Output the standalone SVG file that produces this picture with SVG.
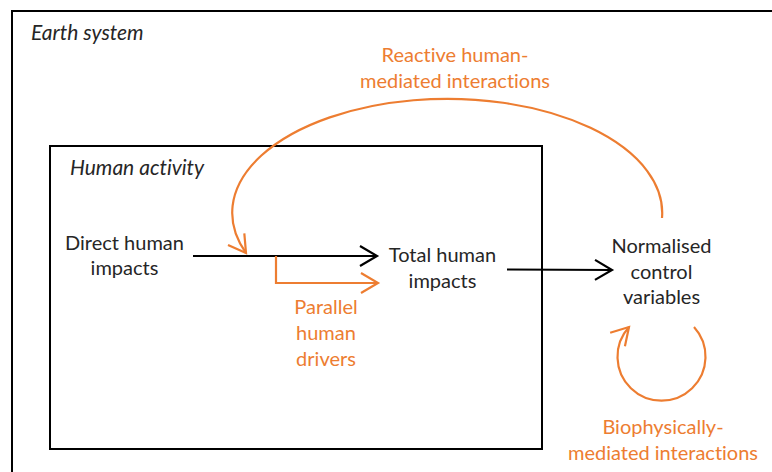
<svg xmlns="http://www.w3.org/2000/svg" width="772" height="472" viewBox="0 0 772 472">
<style>
  text { font-variant-ligatures: none; }
  .t { font-family: Lato, "Open Sans", sans-serif; font-size: 20px; fill: #262626; text-anchor: middle; }
  .it { font-family: Lato, "Open Sans", sans-serif; font-size: 21px; fill: #262626; font-style: italic; }
  .o { fill: #ED7D31; }
  .box { fill: none; stroke: #000; stroke-width: 2; }
  .blk { fill: none; stroke: #000; stroke-width: 2; }
  .org { fill: none; stroke: #ED7D31; stroke-width: 2.2; }
</style>
<defs>
  <marker id="ab" markerUnits="userSpaceOnUse" markerWidth="24" markerHeight="24" viewBox="-20 -12 24 24" refX="0" refY="0" orient="auto" overflow="visible">
    <path d="M -17 -10 L 0 0 L -17 10" fill="none" stroke="#000" stroke-width="2.2"/>
  </marker>
  <marker id="ao" markerUnits="userSpaceOnUse" markerWidth="24" markerHeight="24" viewBox="-20 -12 24 24" refX="0" refY="0" orient="auto" overflow="visible">
    <path d="M -17 -10 L 0 0 L -17 10" fill="none" stroke="#ED7D31" stroke-width="2.2"/>
  </marker>
</defs>
<rect width="772" height="472" fill="#fff"/>

<g id="earth-system">
  <rect class="box" x="12" y="11" width="800" height="500"/>
  <text class="it" x="31" y="40">Earth system</text>
</g>

<g id="human-activity">
  <rect class="box" x="50" y="146" width="492" height="303"/>
  <text class="it" x="70" y="175">Human activity</text>
</g>

<g id="direct-human-impacts">
  <text class="t" x="124.5" y="250">Direct human</text>
  <text class="t" x="124.5" y="275">impacts</text>
</g>

<g id="total-human-impacts">
  <text class="t" x="442.5" y="262">Total human</text>
  <text class="t" x="442.5" y="288">impacts</text>
</g>

<g id="normalised-control-variables">
  <text class="t" x="661.5" y="253">Normalised</text>
  <text class="t" x="661.5" y="279">control</text>
  <text class="t" x="661.5" y="304">variables</text>
</g>

<g id="parallel-human-drivers">
  <text class="t o" x="326" y="314">Parallel</text>
  <text class="t o" x="326" y="340">human</text>
  <text class="t o" x="326" y="366">drivers</text>
</g>

<g id="reactive-label">
  <text class="t o" x="455" y="62">Reactive human-</text>
  <text class="t o" x="455" y="88">mediated interactions</text>
</g>

<g id="biophysical-label">
  <text class="t o" x="663" y="434">Biophysically-</text>
  <text class="t o" x="663" y="460">mediated interactions</text>
</g>

<g id="connectors">
  <line class="blk" x1="193" y1="256" x2="377" y2="256" marker-end="url(#ab)"/>
  <line class="blk" x1="507" y1="269.5" x2="612" y2="270" marker-end="url(#ab)"/>
  <path class="org" d="M 276 256 L 276 283 L 378 283" marker-end="url(#ao)"/>
  <path class="org" d="M 662 218 A 215 114 0 1 0 246 253" marker-end="url(#ao)"/>
  <path class="org" d="M 694 327 A 44 44 0 1 1 629 327" marker-end="url(#ao)"/>
</g>
</svg>
